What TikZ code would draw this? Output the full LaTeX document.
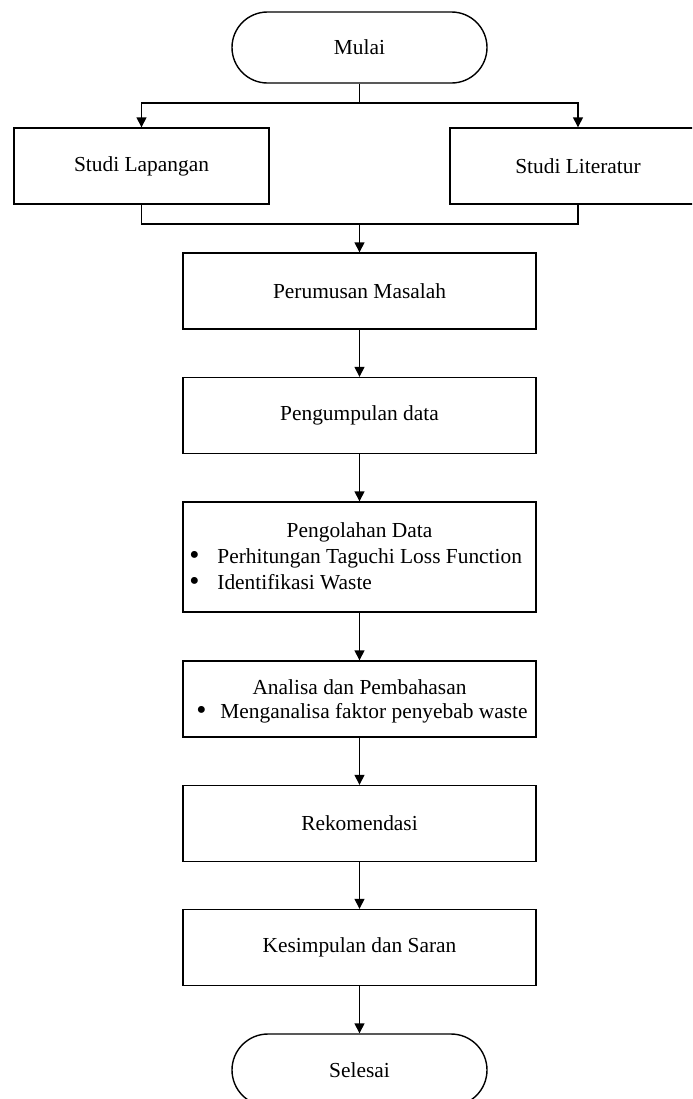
\documentclass[tikz,border=0pt]{standalone}
\usepackage{fontspec}
\setmainfont{Liberation Serif}
\usetikzlibrary{arrows.meta}
\newcommand{\bigbul}{\raisebox{-0.1ex}{\scalebox{1.35}{•}}}
\begin{document}
\begin{tikzpicture}[x=0.5pt,y=-0.5pt,
  every node/.style={font=\fontsize{10.7}{12.5}\selectfont},
  box/.style={draw, line width=0.7pt, rectangle, minimum height=38pt, inner sep=0pt},
  mainbox/.style={box, minimum width=176.5pt},
  term/.style={draw, line width=0.7pt, rectangle, rounded corners=17.75pt, minimum width=127.5pt, minimum height=35.5pt},
  txt/.style={inner sep=0pt},
  arr/.style={-{Triangle[length=5pt,width=5pt]}, line width=0.7pt},
  ln/.style={line width=0.7pt}]
\useasboundingbox (0,0) rectangle (692,1099);
\clip (0,0) rectangle (692,1099);

\node[term] (mulai) at (359.5,47.5) {Mulai};
\node[box, minimum width=127.5pt] (lapangan) at (141.5,166) {Studi Lapangan};
\node[box, minimum width=128pt] (literatur) at (578,166) {Studi Literatur};
\node[mainbox] (perumusan) at (359.5,291) {Perumusan Masalah};
\node[mainbox] (pengumpulan) at (359.5,415.5) {Pengumpulan data};
\node[mainbox, minimum height=55pt] (pengolahan) at (359.5,557) {};
\node[txt] (pgtitle) at (359.5,532) {Pengolahan Data};
\node[txt, anchor=west] (pgb1) at (189,558) {\makebox[14pt][l]{\bigbul}Perhitungan Taguchi Loss Function};
\node[txt, anchor=west] (pgb2) at (189,582) {\makebox[14pt][l]{\bigbul}Identifikasi Waste};
\node[mainbox] (analisa) at (359.5,699) {};
\node[txt] (antitle) at (359.5,687) {Analisa dan Pembahasan};
\node[txt, anchor=west] (anb1) at (196,713) {\makebox[12pt][l]{\bigbul}Menganalisa faktor penyebab waste};
\node[mainbox] (rekomendasi) at (359.5,823.5) {Rekomendasi};
\node[mainbox] (kesimpulan) at (359.5,947.5) {Kesimpulan dan Saran};
\node[term, minimum height=36pt, rounded corners=18pt] (selesai) at (359.5,1070) {Selesai};

\coordinate (split) at (359.5,103);
\coordinate (join) at (359.5,224);
\draw[ln] (mulai.south) -- (split);
\draw[arr] (split) -| (lapangan.north);
\draw[arr] (split) -| (literatur.north);
\draw[ln] (lapangan.south) |- (join);
\draw[ln] (literatur.south) |- (join);
\draw[arr] (join) -- (perumusan.north);
\draw[arr] (perumusan) -- (pengumpulan);
\draw[arr] (pengumpulan) -- (pengolahan);
\draw[arr] (pengolahan) -- (analisa);
\draw[arr] (analisa) -- (rekomendasi);
\draw[arr] (rekomendasi) -- (kesimpulan);
\draw[arr] (kesimpulan) -- (selesai);
\end{tikzpicture}
\end{document}
